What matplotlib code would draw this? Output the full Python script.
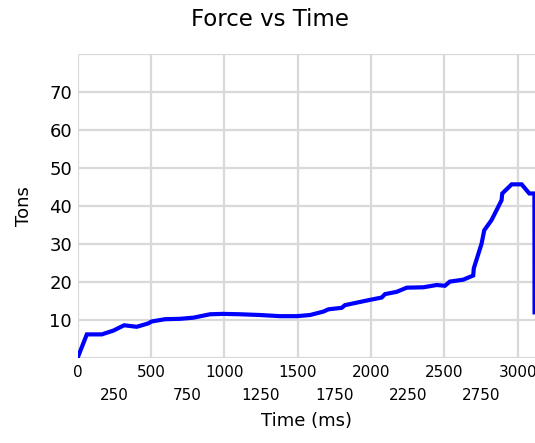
import matplotlib
matplotlib.use('Agg')
from matplotlib import pyplot as plt
from matplotlib.ticker import MultipleLocator, FixedLocator

# force readings (tons) over time (ms)
time_ms = [0, 63, 165, 244, 317, 403, 482, 505, 596, 698, 789, 903, 993, 1107,
           1243, 1379, 1493, 1584, 1675, 1709, 1800, 1822, 1981, 2072, 2095,
           2174, 2243, 2356, 2447, 2503, 2537, 2628, 2696, 2700, 2753, 2771,
           2821, 2889, 2894, 2958, 3026, 3078, 3113, 3114]
force_tons = [0.0, 6.2, 6.2, 7.2, 8.6, 8.2, 9.1, 9.6, 10.2, 10.3, 10.6, 11.5,
              11.6, 11.5, 11.3, 11.0, 11.0, 11.3, 12.2, 12.8, 13.2, 13.9, 15.2,
              15.9, 16.8, 17.4, 18.5, 18.6, 19.2, 19.0, 20.1, 20.6, 21.7, 23.6,
              30.1, 33.6, 36.3, 41.5, 43.3, 45.7, 45.7, 43.3, 43.3, 12.0]

major_x = [0, 500, 1000, 1500, 2000, 2500, 3000]
minor_x = [250, 750, 1250, 1750, 2250, 2750]
y_ticks = [10, 20, 30, 40, 50, 60, 70]

fig = plt.figure(figsize=(5.35, 4.43), dpi=100)
ax = fig.add_axes([0.145, 0.192, 0.855, 0.686])

ax.plot(time_ms, force_tons, color='#0000ff', linewidth=3, solid_joinstyle='miter', zorder=3)

ax.set_xlim(0, 3117)
ax.set_ylim(0, 80)

ax.xaxis.set_major_locator(FixedLocator(major_x))
ax.xaxis.set_minor_locator(FixedLocator(minor_x))
ax.set_xticklabels([str(v) for v in major_x])
ax.set_xticklabels([str(v) for v in minor_x], minor=True)
ax.yaxis.set_major_locator(FixedLocator(y_ticks))
ax.yaxis.set_minor_locator(MultipleLocator(10))

ax.tick_params(axis='x', which='major', length=0, pad=5, labelsize=11)
ax.tick_params(axis='x', which='minor', length=0, pad=22, labelsize=11)
ax.tick_params(axis='y', which='both', length=0, pad=4, labelsize=13)

for s in ax.spines.values():
    s.set_visible(False)

# vertical grid at every 500, horizontal at every 10
for v in major_x:
    ax.axvline(v, color='#d9d9d9', linewidth=1.6, zorder=1)
for v in range(0, 90, 10):
    ax.axhline(v, color='#d9d9d9', linewidth=1.6, zorder=1)

ax.set_xlabel('Time (ms)', fontsize=13, labelpad=6)
ax.set_ylabel('Tons', fontsize=13, labelpad=12)
fig.text(0.505, 0.955, 'Force vs Time', ha='center', va='center', fontsize=16.5)

fig.savefig('out.png', dpi=100)
